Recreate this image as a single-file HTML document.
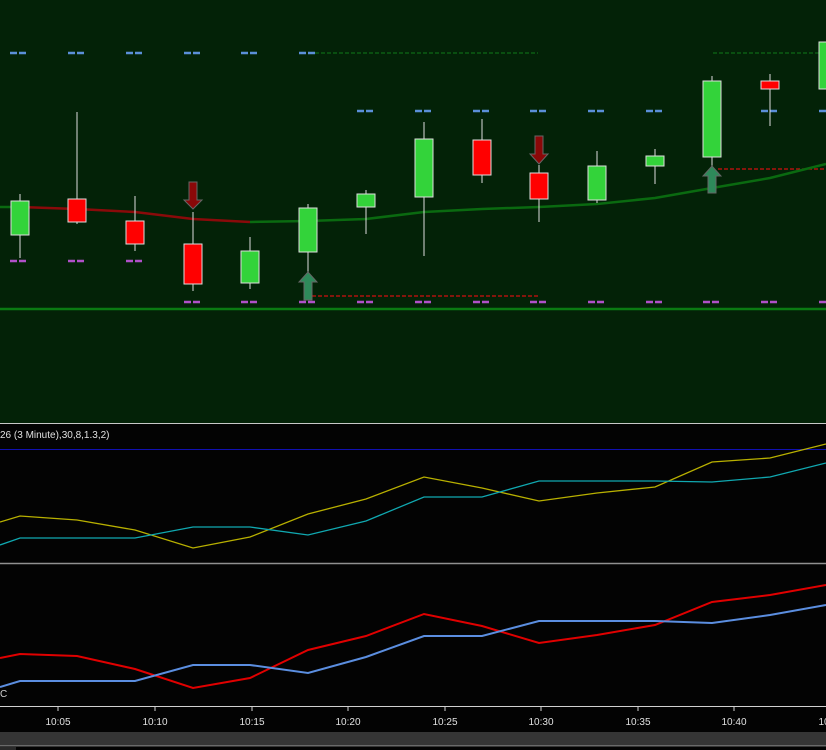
<!DOCTYPE html>
<html><head><style>
html,body{margin:0;padding:0;background:#000;}
svg{display:block;font-family:"Liberation Sans",sans-serif;}
</style></head><body>
<svg width="826" height="750" viewBox="0 0 826 750" xmlns="http://www.w3.org/2000/svg">
<rect x="0" y="0" width="826" height="750" fill="#030303"/>
<rect x="0" y="0" width="826" height="423" fill="#032207"/>
<line x1="0" y1="423.5" x2="826" y2="423.5" stroke="#c8c8c8" stroke-width="1"/>
<!-- price panel lines -->
<line x1="0" y1="309" x2="826" y2="309" stroke="#0a7a12" stroke-width="2.5"/>
<line x1="315" y1="53" x2="538" y2="53" stroke="#0f7a1a" stroke-width="1" stroke-dasharray="4,2"/>
<line x1="713" y1="53" x2="826" y2="53" stroke="#0f7a1a" stroke-width="1" stroke-dasharray="4,2"/>
<line x1="312" y1="296" x2="538" y2="296" stroke="#d01010" stroke-width="1.3" stroke-dasharray="4,2"/>
<line x1="718" y1="169" x2="826" y2="169" stroke="#d01010" stroke-width="1.3" stroke-dasharray="4,2"/>
<!-- MA -->
<polyline points="0,207 20,207" fill="none" stroke="#0a6a10" stroke-width="2.5"/>
<polyline points="20,207 77,209 135,212 193,219 250,222" fill="none" stroke="#8a0a0a" stroke-width="2.5"/>
<polyline points="250,222 308,221 366,219 424,212 482,209 539,207 597,204 655,198 712,188 770,178 826,164" fill="none" stroke="#0a6a10" stroke-width="2.5"/>
<g id="dashes" stroke-width="2.5">
<g stroke="#5b8fd8">
<path d="M10,53h7M19,53h7 M68,53h7M77,53h7 M126,53h7M135,53h7 M184,53h7M193,53h7 M241,53h7M250,53h7 M299,53h7M308,53h7"/>
<path d="M357,111h7M366,111h7 M415,111h7M424,111h7 M473,111h7M482,111h7 M530,111h7M539,111h7 M588,111h7M597,111h7 M646,111h7M655,111h7 M703,111h7M712,111h7 M761,111h7M770,111h7 M819,111h7"/>
</g>
<g stroke="#b050c8">
<path d="M10,261h7M19,261h7 M68,261h7M77,261h7 M126,261h7M135,261h7"/>
<path d="M184,302h7M193,302h7 M241,302h7M250,302h7 M299,302h7M308,302h7 M357,302h7M366,302h7 M415,302h7M424,302h7 M473,302h7M482,302h7 M530,302h7M539,302h7 M588,302h7M597,302h7 M646,302h7M655,302h7 M703,302h7M712,302h7 M761,302h7M770,302h7 M819,302h7"/>
</g>
</g>
<!-- candles -->
<g stroke="#dcdcdc" stroke-width="1">
<line x1="20" y1="194" x2="20" y2="258"/><rect x="11" y="201" width="18" height="34" fill="#33d33a"/>
<line x1="77" y1="112" x2="77" y2="224"/><rect x="68" y="199" width="18" height="23" fill="#ff0000"/>
<line x1="135" y1="196" x2="135" y2="251"/><rect x="126" y="221" width="18" height="23" fill="#ff0000"/>
<line x1="193" y1="212" x2="193" y2="291"/><rect x="184" y="244" width="18" height="40" fill="#ff0000"/>
<line x1="250" y1="237" x2="250" y2="289"/><rect x="241" y="251" width="18" height="32" fill="#33d33a"/>
<line x1="308" y1="204" x2="308" y2="272"/><rect x="299" y="208" width="18" height="44" fill="#33d33a"/>
<line x1="366" y1="190" x2="366" y2="234"/><rect x="357" y="194" width="18" height="13" fill="#33d33a"/>
<line x1="424" y1="122" x2="424" y2="256"/><rect x="415" y="139" width="18" height="58" fill="#33d33a"/>
<line x1="482" y1="119" x2="482" y2="183"/><rect x="473" y="140" width="18" height="35" fill="#ff0000"/>
<line x1="539" y1="165" x2="539" y2="222"/><rect x="530" y="173" width="18" height="26" fill="#ff0000"/>
<line x1="597" y1="151" x2="597" y2="203"/><rect x="588" y="166" width="18" height="34" fill="#33d33a"/>
<line x1="655" y1="149" x2="655" y2="184"/><rect x="646" y="156" width="18" height="10" fill="#33d33a"/>
<line x1="712" y1="76" x2="712" y2="168"/><rect x="703" y="81" width="18" height="76" fill="#33d33a"/>
<line x1="770" y1="74" x2="770" y2="126"/><rect x="761" y="81" width="18" height="8" fill="#ff0000"/>
<rect x="819" y="42" width="18" height="47" fill="#33d33a"/>
</g>
<!-- arrows -->
<g stroke="#666" stroke-width="1">
<polygon points="189,182 197,182 197,200 202,200 193,209 184,200 189,200" fill="#8a0808"/>
<polygon points="535,136 543,136 543,154 548,154 539,164 530,154 535,154" fill="#8a0808"/>
<polygon points="304,300 312,300 312,282 317,282 308,272 299,282 304,282" fill="#2e8a5a"/>
<polygon points="708,193 716,193 716,176 721,176 712,166 703,176 708,176" fill="#2e8a5a"/>
</g>
<!-- indicator 1 -->
<text x="0" y="438" fill="#e0e0e0" font-size="10">26 (3 Minute),30,8,1.3,2)</text>
<line x1="0" y1="449.5" x2="826" y2="449.5" stroke="#1010b0" stroke-width="1"/>
<polyline points="0,522 20,516 77,520 135,530 193,548 250,537 308,514 366,499 424,477 482,488 539,501 597,493 655,487 712,462 770,458 826,444" fill="none" stroke="#b8b000" stroke-width="1.3"/>
<polyline points="0,545 20,538 77,538 135,538 193,527 250,527 308,535 366,521 424,497 482,497 539,481 597,481 655,481 712,482 770,477 826,463" fill="none" stroke="#10a8b0" stroke-width="1.3"/>
<line x1="0" y1="563.5" x2="826" y2="563.5" stroke="#909090" stroke-width="1.5"/>
<!-- indicator 2 -->
<polyline points="0,658 20,654 77,656 135,669 193,688 250,678 308,650 366,636 424,614 482,626 539,643 597,635 655,625 712,602 770,595 826,585" fill="none" stroke="#e00000" stroke-width="2"/>
<polyline points="0,687 20,681 77,681 135,681 193,665 250,665 308,673 366,657 424,636 482,636 539,621 597,621 655,621 712,623 770,615 826,605" fill="none" stroke="#5b8ee0" stroke-width="2"/>
<text x="0" y="697" fill="#d0d0d0" font-size="10">C</text>
<!-- time axis -->
<line x1="0" y1="706.5" x2="826" y2="706.5" stroke="#d0d0d0" stroke-width="1"/>
<g stroke="#d0d0d0"><path d="M58,707v4M155,707v4M252,707v4M348,707v4M445,707v4M541,707v4M638,707v4M734,707v4"/></g>
<g fill="#e0e0e0" font-size="10" text-anchor="middle">
<text x="58" y="725">10:05</text><text x="155" y="725">10:10</text><text x="252" y="725">10:15</text><text x="348" y="725">10:20</text><text x="445" y="725">10:25</text><text x="541" y="725">10:30</text><text x="638" y="725">10:35</text><text x="734" y="725">10:40</text><text x="831" y="725">10:45</text>
</g>
<rect x="0" y="732" width="826" height="13" fill="#353535"/>
<rect x="0" y="745" width="826" height="1.5" fill="#6a6a6a"/>
<rect x="0" y="747" width="16" height="3" fill="#2a2a2a"/>
</svg>
</body></html>
